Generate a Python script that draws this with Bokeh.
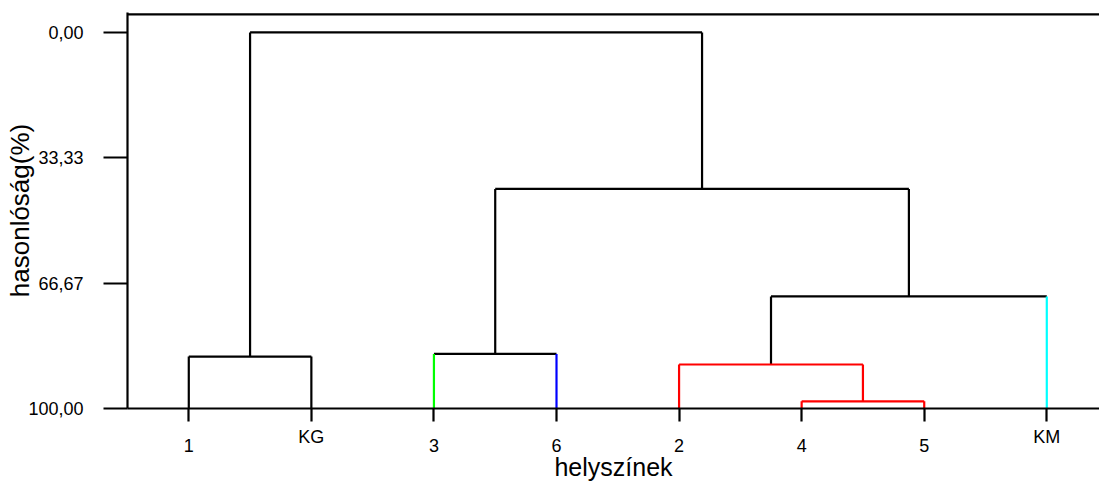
from bokeh.plotting import figure
from bokeh.models import Range1d, FixedTicker
from bokeh.embed import file_html
from bokeh.resources import INLINE

# ---- data ----
leaves = ["1", "KG", "3", "6", "2", "4", "5", "KM"]
leaf_colors = ["#000000", "#000000", "#00ff00", "#0000ff",
               "#ff0000", "#ff0000", "#ff0000", "#00ffff"]
# merges: node ids 0..7 are leaves, merge k creates node 8+k
merge_left = [0, 2, 5, 4, 11, 9, 8]
merge_right = [1, 3, 6, 10, 7, 12, 13]
merge_height = [86.2, 85.5, 98.1, 88.3, 70.2, 41.6, 0.0]
merge_colors = ["#000000", "#000000", "#ff0000", "#ff0000",
                "#000000", "#000000", "#000000"]
y_ticks = [0.0, 33.33, 66.67, 100.0]
y_tick_labels = ["0,00", "33,33", "66,67", "100,00"]
x_title = "helyszínek"
y_title = "hasonlóság(%)"

FONT = "Liberation Sans"

# ---- layout of the tree ----
n = len(leaves)
node_x = [float(i + 1) for i in range(n)]
node_h = [100.0] * n
for l, r, h in zip(merge_left, merge_right, merge_height):
    node_x.append((node_x[l] + node_x[r]) / 2.0)
    node_h.append(h)

segs = {"x0": [], "y0": [], "x1": [], "y1": [], "c": []}
def add(x0, y0, x1, y1, c):
    segs["x0"].append(x0); segs["y0"].append(y0)
    segs["x1"].append(x1); segs["y1"].append(y1); segs["c"].append(c)

for k, (l, r, h, c) in enumerate(zip(merge_left, merge_right, merge_height, merge_colors)):
    add(node_x[l], h, node_x[r], h, c)
    for ch in (l, r):
        vc = leaf_colors[ch] if ch < n else c
        add(node_x[ch], node_h[ch], node_x[ch], h, vc)

order = sorted(range(len(segs["c"])), key=lambda i: 0 if segs["c"][i] == "#000000" else 1)
data = {k: [v[i] for i in order] for k, v in segs.items()}

X0, X1 = 0.5, 8.43
p = figure(width=1099, height=483,
           x_range=Range1d(X0, X1), y_range=Range1d(100, -5.3),
           output_backend="svg", toolbar_location=None,
           min_border_left=127, min_border_right=0,
           min_border_top=12, min_border_bottom=72)
p.grid.visible = False
p.outline_line_color = None
p.background_fill_color = "white"
p.border_fill_color = "white"

# top frame line
p.segment(x0=[X0], y0=[-4.8], x1=[X1], y1=[-4.8], line_color="black", line_width=2.2)
p.segment(x0="x0", y0="y0", x1="x1", y1="y1", line_color="c", line_width=2.2, source=data)

xa = p.xaxis[0]
xa.ticker = FixedTicker(ticks=[i + 1 for i in range(n)])
# numeric site labels sit one short line lower than the lettered ones
xa.major_label_overrides = {i + 1: (("\n" + lab) if lab.isdigit() else lab)
                            for i, lab in enumerate(leaves)}
xa.major_label_text_line_height = 0.45
xa.major_tick_out = 13
xa.major_tick_in = 0
xa.minor_tick_line_color = None
xa.axis_line_width = 2.2
xa.major_tick_line_width = 2.2
xa.axis_line_color = "black"
xa.major_tick_line_color = "black"
xa.major_label_text_font = FONT
xa.major_label_text_font_size = "18px"
xa.major_label_text_color = "black"
xa.major_label_standoff = 5
xa.axis_label = x_title
xa.axis_label_text_font = FONT
xa.axis_label_text_font_size = "25px"
xa.axis_label_text_font_style = "normal"
xa.axis_label_text_color = "black"
xa.axis_label_standoff = -6

ya = p.yaxis[0]
ya.ticker = FixedTicker(ticks=y_ticks)
ya.major_label_overrides = {t: s for t, s in zip(y_ticks, y_tick_labels)}
ya.major_tick_out = 24
ya.major_tick_in = 0
ya.minor_tick_line_color = None
ya.axis_line_width = 2.2
ya.major_tick_line_width = 2.2
ya.axis_line_color = "black"
ya.major_tick_line_color = "black"
ya.major_label_text_font = FONT
ya.major_label_text_font_size = "18px"
ya.major_label_text_color = "black"
ya.major_label_standoff = 20
ya.axis_label = y_title
ya.axis_label_text_font = FONT
ya.axis_label_text_font_size = "26px"
ya.axis_label_text_font_style = "normal"
ya.axis_label_text_color = "black"
ya.axis_label_standoff = -10

open("out.html", "w").write(file_html(p, INLINE))
